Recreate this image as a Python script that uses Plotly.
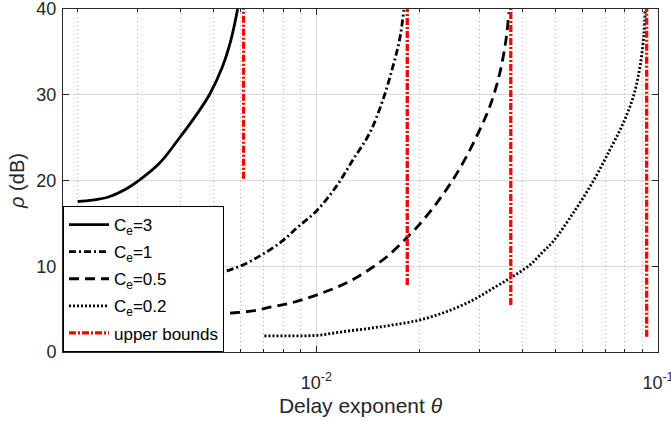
import plotly.graph_objects as go

# ---- data ----
theta_ce3 = [0.00200, 0.00221, 0.00247, 0.00277, 0.00301, 0.00347, 0.00396, 0.00444, 0.00486, 0.00531, 0.00562, 0.00588]
rho_ce3 = [17.55, 17.7, 18.1, 19.0, 19.95, 22.0, 24.9, 27.6, 30.0, 33.3, 36.4, 40.0]

theta_ce1 = [0.00450, 0.00500, 0.005385, 0.006027, 0.00690, 0.007897, 0.008839, 0.01002, 0.01142, 0.01278, 0.01430, 0.01565, 0.01674, 0.01751, 0.01803]
rho_ce1 = [8.5, 8.95, 9.37, 10.07, 11.31, 12.86, 14.6, 16.48, 19.28, 22.39, 25.5, 29.39, 33.27, 36.4, 39.88]

theta_ce05 = [0.00450, 0.00500, 0.00576, 0.006594, 0.007379, 0.00826, 0.009241, 0.01034, 0.01158, 0.01295, 0.01450, 0.01623, 0.01815, 0.01942, 0.02005, 0.02244, 0.02510, 0.02748, 0.03006, 0.03216, 0.03441, 0.03600, 0.03656]
rho_ce05 = [4.33, 4.42, 4.58, 4.82, 5.25, 5.63, 6.18, 6.85, 7.62, 8.57, 9.8, 11.25, 13.1, 14.3, 14.9, 17.3, 20.1, 22.78, 25.9, 28.6, 32.5, 36.8, 39.6]

theta_ce02 = [0.00704, 0.00852, 0.01009, 0.01194, 0.0143, 0.01674, 0.02005, 0.02401, 0.02873, 0.03289, 0.03724, 0.04214, 0.04609, 0.04932, 0.05645, 0.06457, 0.07228, 0.07907, 0.08465, 0.08855, 0.09099, 0.09170]
rho_ce02 = [1.87, 1.88, 1.95, 2.37, 2.76, 3.15, 3.73, 4.7, 6.06, 7.43, 8.71, 10.15, 11.7, 12.9, 16.2, 19.9, 23.56, 26.67, 29.77, 33.27, 37.16, 39.88]

theta_bounds = [0.00612, 0.01845, 0.03707, 0.09265]
bound_low = [20.2, 7.81, 5.48, 1.78]
bound_high = 40.0

names = ["C<sub>e</sub>=3", "C<sub>e</sub>=1", "C<sub>e</sub>=0.5", "C<sub>e</sub>=0.2", "upper bounds"]

x_ticks = [0.01, 0.1]
x_ticktext = ["10<sup>-2</sup>", "10<sup>-1</sup>"]
y_ticks = [0, 10, 20, 30, 40]

TXT = "#262626"
FONT = "Liberation Sans, Arial, sans-serif"

fig = go.Figure()
curves = [
    (theta_ce3, rho_ce3, "solid"),
    (theta_ce1, rho_ce1, "7px,3px,2px,3px"),
    (theta_ce05, rho_ce05, "10px,6px"),
    (theta_ce02, rho_ce02, "2px,2px"),
]
for i, (tx, ry, dash) in enumerate(curves):
    fig.add_trace(go.Scatter(
        x=tx, y=ry, mode="lines", name=names[i], legendgroup=f"g{i}",
        line=dict(color="black", width=2.8, dash=dash, shape="spline", smoothing=1.0),
    ))

bx, by = [], []
for t, lo in zip(theta_bounds, bound_low):
    bx += [t, t, None]
    by += [lo, bound_high, None]
fig.add_trace(go.Scatter(
    x=bx, y=by, mode="lines", name=names[4], legendgroup="g4",
    line=dict(color="red", width=3.3, dash="7px,2px,2px,2px"),
))

minor_vals = [k * 0.001 for k in range(2, 10)] + [k * 0.01 for k in range(2, 10)]

fig.update_layout(
    width=671, height=421,
    margin=dict(l=63, r=13, t=9, b=69),
    paper_bgcolor="white", plot_bgcolor="white",
    font=dict(family=FONT, size=17, color=TXT),
    showlegend=True,
    legend=dict(
        x=0, y=0, xanchor="left", yanchor="bottom",
        bgcolor="white", bordercolor="black", borderwidth=1,
        font=dict(size=17, color="black"),
        tracegroupgap=2, itemwidth=40,
    ),
    xaxis=dict(
        type="log", range=[-2.742, -1], automargin=False,
        tickvals=x_ticks, ticktext=x_ticktext,
        ticks="inside", ticklen=6, tickcolor=TXT,
        ticklabeloverflow="allow", ticklabelstandoff=14,
        tickfont=dict(size=18),
        showline=True, linecolor=TXT, linewidth=1, mirror="allticks",
        showgrid=True, gridcolor="#dcdcdc", gridwidth=1,
        zeroline=False,
        minor=dict(tickmode="array", tickvals=minor_vals, ticks="inside", ticklen=3, tickcolor=TXT,
                   showgrid=True, griddash="1px,3px", gridcolor="#b4b4b4", gridwidth=1),
        title=dict(text="Delay exponent <i>θ</i>", font=dict(size=21, color=TXT), standoff=6),
    ),
    yaxis=dict(
        range=[0, 40], tickvals=y_ticks, automargin=False,
        ticks="inside", ticklen=6, tickcolor=TXT,
        ticklabeloverflow="allow", ticklabelstandoff=2,
        tickfont=dict(size=18),
        showline=True, linecolor=TXT, linewidth=1, mirror="allticks",
        showgrid=True, gridcolor="#dcdcdc", gridwidth=1,
        zeroline=False,
        title=dict(text="<i>ρ</i> (dB)", font=dict(size=20, color=TXT), standoff=6),
    ),
)

fig.write_html("out.html")
